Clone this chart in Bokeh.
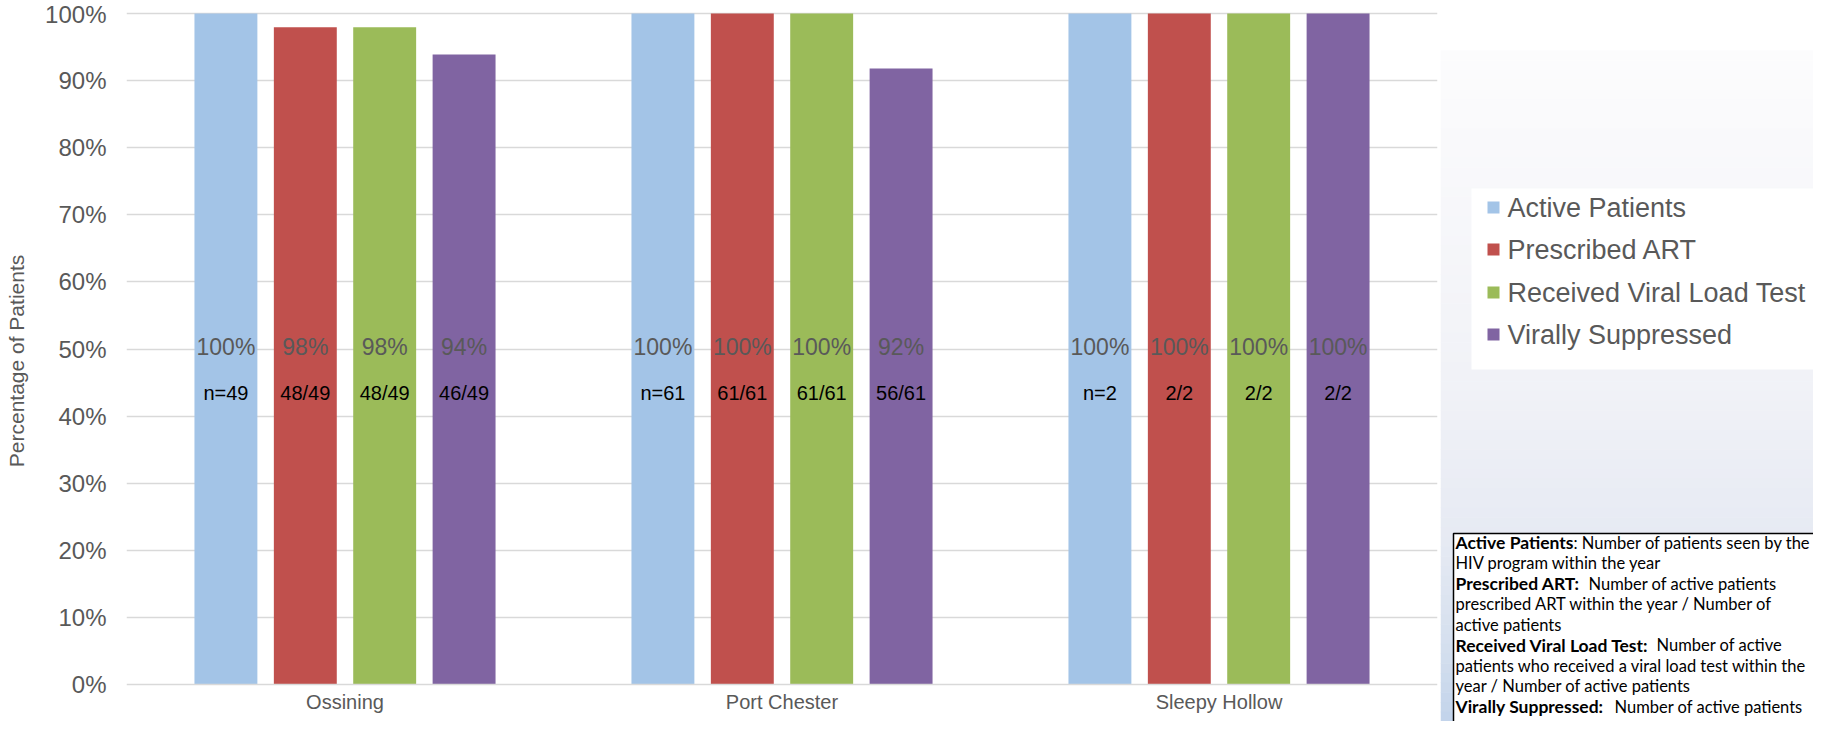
from bokeh.plotting import figure
from bokeh.models import ColumnDataSource, FactorRange, Range1d, PrintfTickFormatter, FixedTicker
from bokeh.transform import dodge
from bokeh.layouts import row
from bokeh.core.properties import value
from bokeh.embed import file_html
from bokeh.resources import INLINE
import numpy as np

# ---------------- data ----------------
sites = ["Ossining", "Port Chester", "Sleepy Hollow"]
series = ["Active Patients", "Prescribed ART", "Received Viral Load Test", "Virally Suppressed"]
colors = ["#a3c4e7", "#c0504d", "#9bbb59", "#8064a2"]
active_n = [49, 61, 2]
art_n = [48, 61, 2]
vl_n = [48, 61, 2]
supp_n = [46, 56, 2]
counts = [active_n, art_n, vl_n, supp_n]
y_ticks = [0, 10, 20, 30, 40, 50, 60, 70, 80, 90, 100]

FONT = value("Liberation Sans")
GREY = "#595959"

# ---------------- layout constants (pixels) ----------------
H = 721                   # canvas height of both figures
TOP_PX, ZERO_PX = 13, 684  # where 100% and 0% sit inside the frame
ppu = (ZERO_PX - TOP_PX) / 100.0
y_lo = -(H - ZERO_PX) / ppu
y_hi = 100 + TOP_PX / ppu

# ---------------- main bar chart ----------------
p = figure(x_range=FactorRange(*sites), y_range=Range1d(y_lo, y_hi),
           frame_width=1311, frame_height=H,
           min_border_left=126, min_border_right=3, min_border_top=0, min_border_bottom=0,
           output_backend="svg", toolbar_location=None)

offsets = [-0.2725, -0.0908, 0.0908, 0.2725]
for i, (name, col, nums) in enumerate(zip(series, colors, counts)):
    pct = [100.0 * n / d for n, d in zip(nums, active_n)]
    pct_lbl = ["%d%%" % round(v) for v in pct]
    if i == 0:
        cnt_lbl = ["n=%d" % d for d in active_n]
    else:
        cnt_lbl = ["%d/%d" % (n, d) for n, d in zip(nums, active_n)]
    src = ColumnDataSource(dict(x=sites, top=pct, pct=pct_lbl, cnt=cnt_lbl))
    xs = dodge("x", offsets[i], range=p.x_range)
    p.vbar(x=xs, top="top", bottom=0, width=0.144, source=src, fill_color=col, line_color=None)
    p.text(x=xs, y=50, text="pct", source=src, text_align="center", text_baseline="middle",
           text_font=FONT, text_font_size="23px", text_color=GREY, y_offset=-2)
    p.text(x=xs, y=43.4, text="cnt", source=src, text_align="center", text_baseline="middle",
           text_font=FONT, text_font_size="20px", text_color="#000000")

p.outline_line_color = None
p.xgrid.grid_line_color = None
p.ygrid.grid_line_color = "#d9d9d9"
p.ygrid.grid_line_width = 1.3
p.yaxis.ticker = FixedTicker(ticks=y_ticks)
p.ygrid.ticker = FixedTicker(ticks=y_ticks[1:])
p.yaxis.formatter = PrintfTickFormatter(format="%d%%")
p.yaxis.axis_line_color = None
p.yaxis.major_tick_line_color = None
p.yaxis.minor_tick_line_color = None
p.yaxis.major_label_standoff = 14
p.yaxis.major_label_text_font = "Liberation Sans"
p.yaxis.major_label_text_font_size = "24px"
p.yaxis.major_label_text_color = GREY
p.yaxis.axis_label = "Percentage of Patients"
p.yaxis.axis_label_text_font = "Liberation Sans"
p.yaxis.axis_label_text_font_size = "21px"
p.yaxis.axis_label_text_font_style = "normal"
p.yaxis.axis_label_text_color = GREY
p.yaxis.axis_label_standoff = 14

p.xaxis.fixed_location = 0
p.xaxis.axis_line_color = "#d9d9d9"
p.xaxis.axis_line_width = 1.5
p.xaxis.major_tick_line_color = None
p.xaxis.minor_tick_line_color = None
p.xaxis.major_label_standoff = 0
p.xaxis.major_label_text_font = "Liberation Sans"
p.xaxis.major_label_text_font_size = "20px"
p.xaxis.major_label_text_color = GREY

# ---------------- right panel: legend + definitions ----------------
W = 373
r = figure(width=W, height=H, x_range=Range1d(0, W), y_range=Range1d(H, 0),
           min_border=0, output_backend="svg", toolbar_location=None)
r.axis.visible = False
r.grid.visible = False
r.outline_line_color = None

# slide background gradient (decoration)
stops_y = [50, 380, 540, 650, 730]
stops_c = [(252, 252, 253), (241, 242, 247), (230, 234, 243), (212, 223, 238), (192, 210, 234)]
edges = np.linspace(50, H, 70)
mids = (edges[:-1] + edges[1:]) / 2
band_cols = []
for m in mids:
    rgb = [int(round(np.interp(m, stops_y, [c[k] for c in stops_c]))) for k in range(3)]
    band_cols.append("#%02x%02x%02x" % tuple(rgb))
r.quad(left=0, right=W, top=edges[:-1], bottom=edges[1:] + 0.5, fill_color=band_cols, line_color=None)

# legend
r.quad(left=31, right=W, top=188, bottom=369, fill_color="white", line_color=None)
leg_y = [207, 249, 292, 334]
r.rect(x=53, y=leg_y, width=12, height=12, fill_color=colors, line_color=None)
r.text(x=67, y=leg_y, text=series, text_baseline="middle", text_font=FONT,
       text_font_size="27px", text_color=GREY)

# definitions box
r.quad(left=13, right=W + 20, top=533, bottom=H + 20, fill_color="white",
       line_color="black", line_width=1.5)
def_bold = ["Active Patients", "", "Prescribed ART:", "", "", "Received Viral Load Test:", "", "",
            "Virally Suppressed:"]
def_regular = [": Number of patients seen by the", "HIV program within the year",
               "Number of active patients", "prescribed ART within the year / Number of",
               "active patients", "Number of active", "patients who received a viral load test within the",
               "year / Number of active patients", "Number of active patients"]
reg_x = [133, 15, 148, 15, 15, 216, 15, 15, 174]
line_y = [542 + 20.5 * k for k in range(9)]
TB = value("Lato")
r.text(x=15, y=line_y, text=def_bold, text_baseline="middle", text_font=TB,
       text_font_style="bold", text_font_size="17.5px", text_color="black")
r.text(x=reg_x, y=line_y, text=def_regular, text_baseline="middle", text_font=TB,
       text_font_size="16.5px", text_color="black")

layout = row(p, r, spacing=0)
open("out.html", "w").write(file_html(layout, INLINE))
